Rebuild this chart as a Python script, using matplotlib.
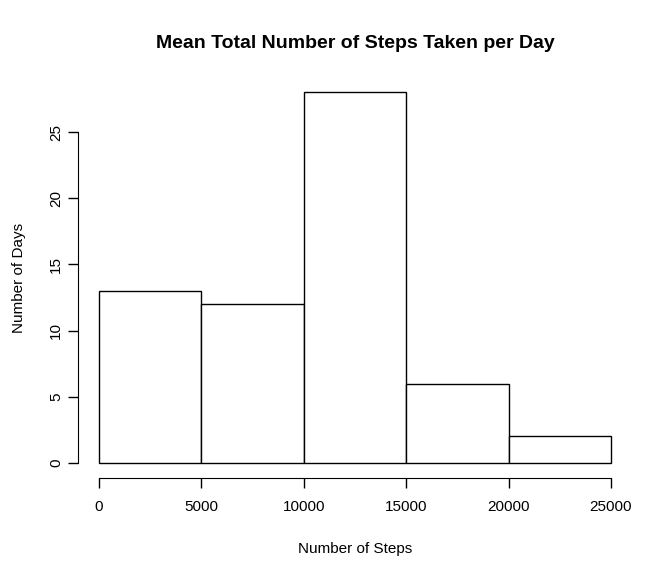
import numpy as np
import matplotlib.pyplot as plt

# ============================================================
# Data
# ============================================================
bin_edges = [0, 5000, 10000, 15000, 20000, 25000]
day_counts = [13, 12, 28, 6, 2]
x_ticks = [0, 5000, 10000, 15000, 20000, 25000]
y_ticks = [0, 5, 10, 15, 20, 25]

plt.rcParams['font.family'] = ['Liberation Sans', 'DejaVu Sans']

fig = plt.figure(figsize=(6.72, 5.76), dpi=100)
ax = fig.add_axes([0.1168, 0.1705, 0.8229, 0.695])

widths = np.diff(bin_edges)
ax.bar(bin_edges[:-1], day_counts, width=widths, align='edge',
       facecolor='white', edgecolor='black', linewidth=1.0)

# R style axis extents (4% padding)
xr = bin_edges[-1] - bin_edges[0]
ax.set_xlim(bin_edges[0] - 0.04 * xr, bin_edges[-1] + 0.04 * xr)
ymax = max(day_counts)
ax.set_ylim(-0.04 * ymax, ymax * 1.04)

for s in ['top', 'right']:
    ax.spines[s].set_visible(False)
ax.spines['left'].set_bounds(y_ticks[0], y_ticks[-1])
ax.spines['bottom'].set_bounds(x_ticks[0], x_ticks[-1])

ax.set_xticks(x_ticks)
ax.set_yticks(y_ticks)
ax.set_yticklabels([str(v) for v in y_ticks], rotation=90, va='center')
ax.tick_params(axis='both', length=7, width=1, labelsize=11)
ax.tick_params(axis='x', pad=9)
ax.tick_params(axis='y', pad=4)

ax.set_title("Mean Total Number of Steps Taken per Day",
             fontsize=14, fontweight='bold', pad=21)
ax.set_xlabel("Number of Steps", fontsize=11, labelpad=20)
ax.set_ylabel("Number of Days", fontsize=11, labelpad=17)

fig.savefig("out.png", dpi=100)
